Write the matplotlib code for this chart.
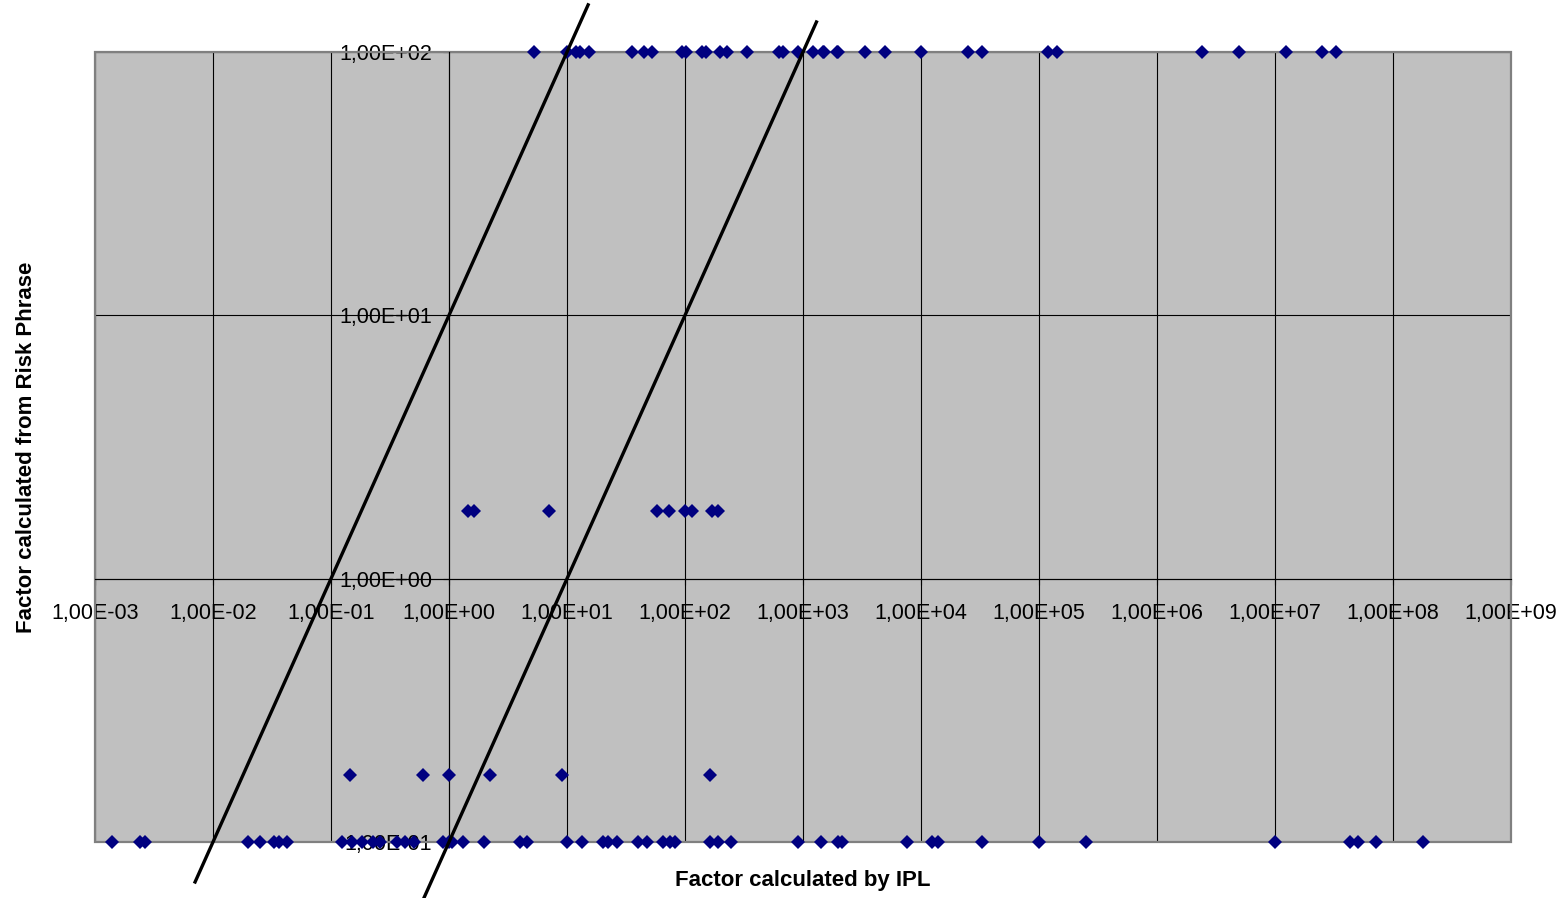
import matplotlib

matplotlib.use("Agg")
import matplotlib.pyplot as plt  # noqa: E402
from matplotlib.patches import Rectangle  # noqa: E402
from matplotlib.ticker import FuncFormatter, LogLocator, NullLocator  # noqa: E402

plt.rcParams["font.family"] = ["Liberation Sans", "DejaVu Sans"]

# IPL factors grouped by the risk-phrase factor they were assigned
rp_levels = [100, 1.8, 0.18, 0.1]
ipl_at_100 = [
    5.25, 10, 11.9, 12.9, 15.3, 35.6, 45, 52.5, 94, 101, 139, 150, 198, 228,
    335, 622, 673, 902, 1216, 1469, 1507, 1932, 1982, 3350, 4955, 10000,
    24900, 32900, 118600, 142900, 2.42e6, 4.95e6, 1.24e7, 2.49e7, 3.29e7,
]
ipl_at_1_8 = [1.44, 1.63, 7.08, 57.5, 73.6, 100, 114, 168, 189]
ipl_at_0_18 = [0.145, 0.598, 1.0, 2.22, 9.0, 163]
ipl_at_0_1 = [
    0.0014, 0.0024, 0.00265, 0.0198, 0.025, 0.0329, 0.0362, 0.0424, 0.123,
    0.151, 0.183, 0.227, 0.26, 0.361, 0.424, 0.51, 0.895, 1.0, 1.05, 1.32,
    1.99, 4.0, 4.55, 10, 13.3, 20.3, 22.4, 26.4, 40.2, 47.3, 65.5, 74.6, 82.3,
    163, 191, 244, 912, 1413, 1991, 2128, 7586, 12330, 13800, 33040, 1e5,
    2.49e5, 1e7, 4.36e7, 5.07e7, 7.21e7, 1.81e8,
]
ipl_groups = [ipl_at_100, ipl_at_1_8, ipl_at_0_18, ipl_at_0_1]

# one-decade agreement band: RP = 10 * IPL and RP = IPL / 10
band_ratios = [10, 0.1]
band_x_ranges = [(0.00705, 15.1), (0.618, 1300)]


def sci_comma(v, _pos):
    return f"{v:.2E}".replace(".", ",")


fig = plt.figure(figsize=(15.64, 8.98), dpi=100)
ax = fig.add_axes([95 / 1564, 56 / 898, 1416 / 1564, 790 / 898])
ax.set_xscale("log")
ax.set_yscale("log")
ax.set_xlim(1e-3, 1e9)
ax.set_ylim(1e-1, 1e2)
ax.set_facecolor("#C0C0C0")

for axis in (ax.xaxis, ax.yaxis):
    axis.set_major_locator(LogLocator(base=10, numticks=20))
    axis.set_minor_locator(NullLocator())
    axis.set_major_formatter(FuncFormatter(sci_comma))

ax.grid(True, color="black", lw=0.8)
ax.set_axisbelow(True)

# axes cross at (1, 1)
for side in ("top", "right"):
    ax.spines[side].set_visible(False)
ax.spines["left"].set_position(("data", 1))
ax.spines["bottom"].set_position(("data", 1))
for side in ("left", "bottom"):
    ax.spines[side].set_color("black")
    ax.spines[side].set_linewidth(0.8)

ax.tick_params(direction="out", length=4.3, width=0.8, labelsize=15.5, colors="black")
ax.tick_params(axis="x", pad=13)
ax.tick_params(axis="y", pad=8)

ax.add_patch(
    Rectangle((0, 0), 1, 1, transform=ax.transAxes, fill=False,
              edgecolor="#808080", lw=1.6, zorder=2.5, clip_on=False)
)

for rp, xs in zip(rp_levels, ipl_groups):
    ax.plot(xs, [rp] * len(xs), ls="none", marker="D", ms=7.6, mew=0,
            color="#000080", zorder=3, clip_on=False)

for ratio, (x0, x1) in zip(band_ratios, band_x_ranges):
    ax.plot([x0, x1], [ratio * x0, ratio * x1], color="black", lw=2.4,
            zorder=4, clip_on=False)

ax.set_xlabel("Factor calculated by IPL", fontsize=16, fontweight="bold")
ax.set_ylabel("Factor calculated from Risk Phrase", fontsize=16, fontweight="bold")
ax.xaxis.set_label_coords(0.5, -0.036)
ax.yaxis.set_label_coords(-0.041, 0.5)

fig.savefig("out.png", dpi=100)
